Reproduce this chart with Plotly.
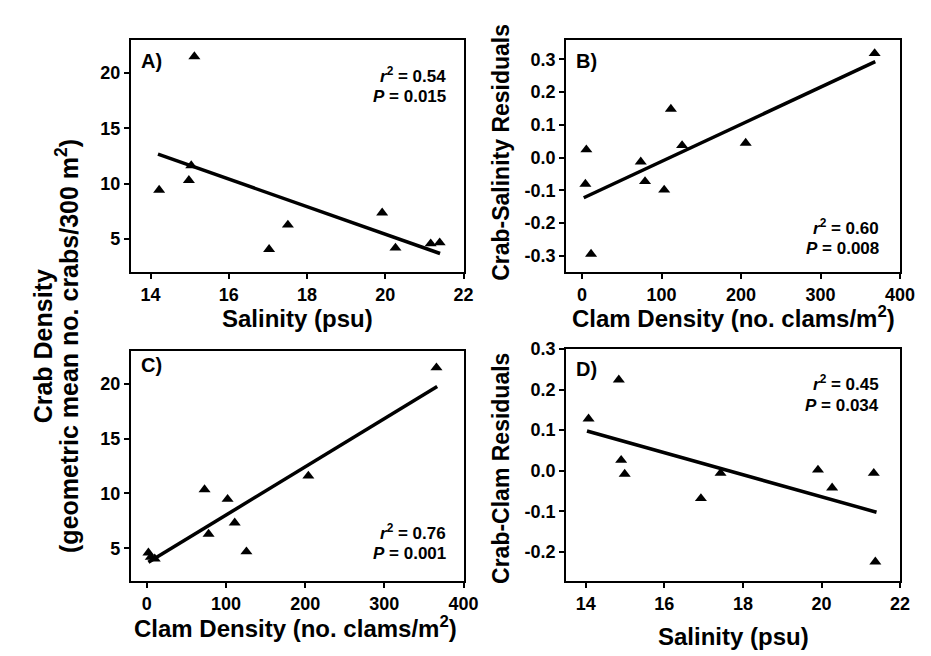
import plotly.graph_objects as go

W, H = 931, 656

# ---------------- data ----------------
# Panel A: crab density vs salinity
A_sal = [14.22, 14.98, 15.04, 15.12, 17.03, 17.51, 19.92, 20.26, 21.16, 21.39]
A_crab = [9.41, 10.29, 11.62, 21.47, 4.06, 6.26, 7.35, 4.18, 4.56, 4.65]
A_fit_x = [14.19, 21.40]
A_fit_y = [12.65, 3.68]

# Panel B: crab-salinity residuals vs clam density
B_clam = [4.2, 5.4, 11.3, 73.8, 79.2, 103.3, 111.7, 125.8, 205.8, 368.0]
B_resid = [-0.081, 0.024, -0.295, -0.013, -0.073, -0.099, 0.148, 0.037, 0.044, 0.318]
B_fit_x = [2.1, 368.8]
B_fit_y = [-0.123, 0.293]

# Panel C: crab density vs clam density
C_clam = [2, 5, 10, 72.9, 78, 102, 111, 125.8, 204, 365.8]
C_crab = [4.6, 4.2, 4.05, 10.36, 6.30, 9.48, 7.33, 4.7, 11.6, 21.47]
C_fit_x = [2.0, 366.7]
C_fit_y = [3.73, 19.75]

# Panel D: crab-clam residuals vs salinity
D_sal = [14.07, 14.84, 14.90, 14.99, 16.93, 17.43, 19.91, 20.27, 21.33, 21.37]
D_resid = [0.128, 0.224, 0.026, -0.008, -0.068, -0.006, 0.002, -0.042, -0.006, -0.224]
D_fit_x = [14.03, 21.40]
D_fit_y = [0.098, -0.102]

# tick labels
sal_ticks = [14, 16, 18, 20, 22]
clam_ticks = [0, 100, 200, 300, 400]
crab_ticks = [5, 10, 15, 20]
B_ticks = [-0.3, -0.2, -0.1, 0.0, 0.1, 0.2, 0.3]
B_ticktext = ["-0.3", "-0.2", "-0.1", "0.0", "0.1", "0.2", "0.3"]
D_ticks = [-0.2, -0.1, 0.0, 0.1, 0.2, 0.3]
D_ticktext = ["-0.2", "-0.1", "0.0", "0.1", "0.2", "0.3"]

stats = {
    "A": ("0.54", "0.015"),
    "B": ("0.60", "0.008"),
    "C": ("0.76", "0.001"),
    "D": ("0.45", "0.034"),
}

FONT = "Liberation Sans, Arial, sans-serif"


def px_x(p):
    return p / W


def px_y(p):
    return 1 - p / H


fig = go.Figure()

panels = [
    ("", "", A_sal, A_crab, A_fit_x, A_fit_y),
    ("2", "2", B_clam, B_resid, B_fit_x, B_fit_y),
    ("3", "3", C_clam, C_crab, C_fit_x, C_fit_y),
    ("4", "4", D_sal, D_resid, D_fit_x, D_fit_y),
]
for xs, ys, x, y, fx, fy in panels:
    fig.add_trace(go.Scatter(x=fx, y=fy, mode="lines",
                             line=dict(color="black", width=3.5),
                             xaxis="x" + xs, yaxis="y" + ys, showlegend=False))
    fig.add_trace(go.Scatter(x=x, y=y, mode="markers",
                             marker=dict(symbol="triangle-up", size=10.5, color="black",
                                         line=dict(width=0)),
                             xaxis="x" + xs, yaxis="y" + ys, showlegend=False))

tickfont = dict(family=FONT, size=18, color="black", weight="bold")
common = dict(showline=True, linewidth=2, linecolor="black", mirror=True,
              ticks="outside", ticklen=5, tickwidth=1.5, tickcolor="black",
              showgrid=False, zeroline=False, tickfont=tickfont)

xA = [px_x(125), px_x(463)]
xB = [px_x(567.3), px_x(906.7)]
yTop = [px_y(258), px_y(22)]
yC = [px_y(572), px_y(338)]
yD = [px_y(572), px_y(336)]

fig.update_layout(
    width=W, height=H,
    margin=dict(l=0, r=0, t=0, b=0),
    paper_bgcolor="white", plot_bgcolor="white",
    xaxis=dict(domain=xA, range=[13.5, 22], tickvals=sal_ticks, anchor="y", **common),
    yaxis=dict(domain=yTop, range=[2, 23], tickvals=crab_ticks, anchor="x", **common),
    xaxis2=dict(domain=xB, range=[-20, 400], tickvals=clam_ticks, anchor="y2", **common),
    yaxis2=dict(domain=yTop, range=[-0.35, 0.36], tickvals=B_ticks, ticktext=B_ticktext,
                anchor="x2", **common),
    xaxis3=dict(domain=xA, range=[-20, 400], tickvals=clam_ticks, anchor="y3", **common),
    yaxis3=dict(domain=yC, range=[2, 23], tickvals=crab_ticks, anchor="x3", **common),
    xaxis4=dict(domain=xB, range=[13.5, 22], tickvals=sal_ticks, anchor="y4", **common),
    yaxis4=dict(domain=yD, range=[-0.272, 0.3], tickvals=D_ticks, ticktext=D_ticktext,
                anchor="x4", **common),
)

ann = []


def text(t, x, y, size, xanchor="center", yanchor="middle", angle=0):
    ann.append(dict(text=t, x=px_x(x), y=px_y(y), xref="paper", yref="paper",
                    showarrow=False, xanchor=xanchor, yanchor=yanchor, textangle=angle,
                    font=dict(family=FONT, size=size, color="black", weight="bold")))


TS = 24
# axis titles
text("Salinity (psu)", 294, 305, TS)
text("Clam Density (no. clams/m<sup>2</sup>)", 737, 304, TS)
text("Clam Density (no. clams/m<sup>2</sup>)", 292, 618, TS)
text("Salinity (psu)", 737, 628, TS)
text("Crab-Salinity Residuals", 501, 136, 23, angle=-90)
text("Crab-Clam Residuals", 501, 457, 23, angle=-90)
text("Crab Density", 36, 333, 25, angle=-90)
text("(geometric mean no. crabs/300 m<sup>2</sup>)", 60, 333, 25, angle=-90)

# panel labels
LS = 20
text("A)", 133, 44, LS, xanchor="left")
text("B)", 575, 44, LS, xanchor="left")
text("C)", 133, 352, LS, xanchor="left")
text("D)", 575, 356, LS, xanchor="left")

# statistics
SS = 17
pos = {"A": (447, 58, 80), "B": (887, 212, 234), "C": (447, 522, 544), "D": (887, 371, 393)}
for k, (r2, p) in stats.items():
    xr, y1, y2 = pos[k]
    text("<i>r</i><sup>2</sup> = " + r2, xr, y1, SS, xanchor="right")
    text("<i>P</i> = " + p, xr, y2, SS, xanchor="right")

fig.update_layout(annotations=ann)
fig.write_html("out.html")
